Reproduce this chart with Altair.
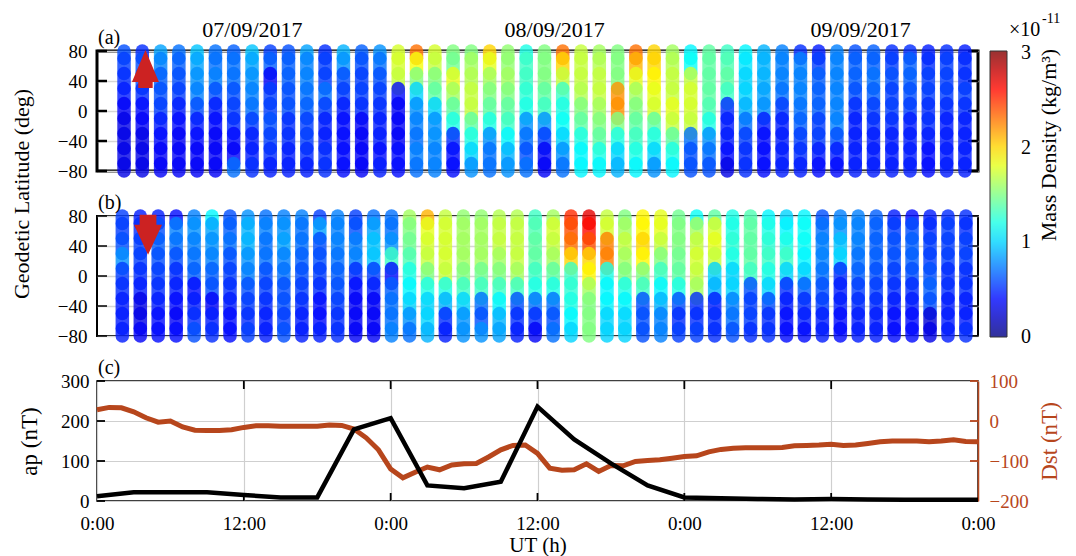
import altair as alt
import pandas as pd

SERIF = "Liberation Serif"
ORANGE = "#B7461C"
ARROW_RED = "#CC2222"
TICK_FS = 19
TITLE_FS = 23

# ---------------- data ----------------
LAT_KNOTS = [80, 60, 40, 20, 0, -20, -40, -60, -80]

# (a) ascending passes: UT (h) of each pass and density (1e-11 kg/m^3) at LAT_KNOTS
ASC_HOURS = [2.21, 3.70, 5.20, 6.69, 8.18, 9.68, 11.17, 12.67, 14.16, 15.65,
             17.15, 18.64, 20.14, 21.63, 23.12, 24.62, 26.11, 27.61, 29.10, 30.59,
             32.09, 33.58, 35.08, 36.57, 38.06, 39.56, 41.05, 42.55, 44.04, 45.53,
             47.03, 48.52, 50.02, 51.51, 53.00, 54.50, 55.99, 57.49, 58.98, 60.47,
             61.97, 63.46, 64.96, 66.45, 67.94, 69.44, 70.93]
ASC_DENSITY = [
    [0.60, 0.55, 0.50, 0.45, 0.35, 0.30, 0.30, 0.30, 0.30],
    [0.50, 0.60, 0.60, 0.50, 0.40, 0.35, 0.30, 0.30, 0.30],
    [0.85, 0.75, 0.65, 0.60, 0.55, 0.45, 0.40, 0.35, 0.35],
    [0.70, 0.65, 0.60, 0.55, 0.45, 0.40, 0.35, 0.35, 0.35],
    [0.95, 0.85, 0.80, 0.75, 0.60, 0.45, 0.40, 0.35, 0.35],
    [0.70, 0.70, 0.75, 0.60, 0.45, 0.40, 0.35, 0.35, 0.35],
    [0.65, 0.70, 0.70, 0.60, 0.55, 0.50, 0.40, 0.35, 0.70],
    [0.95, 0.85, 0.80, 0.75, 0.70, 0.55, 0.45, 0.45, 0.50],
    [0.55, 0.65, 0.35, 0.55, 0.55, 0.60, 0.55, 0.50, 0.45],
    [0.60, 0.65, 0.65, 0.60, 0.60, 0.50, 0.50, 0.45, 0.45],
    [0.85, 0.75, 0.75, 0.70, 0.65, 0.55, 0.55, 0.50, 0.45],
    [0.50, 0.55, 0.55, 0.70, 0.55, 0.45, 0.45, 0.50, 0.50],
    [0.90, 0.80, 0.60, 0.55, 0.45, 0.40, 0.40, 0.40, 0.40],
    [0.65, 0.60, 0.55, 0.55, 0.50, 0.35, 0.35, 0.35, 0.35],
    [0.80, 0.70, 0.60, 0.55, 0.50, 0.45, 0.45, 0.40, 0.45],
    [1.75, 1.75, 1.70, 0.40, 0.35, 0.35, 0.35, 0.40, 0.40],
    [2.30, 1.85, 1.50, 1.00, 0.80, 0.75, 0.70, 0.75, 0.70],
    [1.75, 1.70, 1.50, 1.40, 1.00, 0.80, 0.80, 0.75, 0.75],
    [1.50, 1.45, 1.80, 1.60, 1.40, 1.20, 0.50, 0.40, 0.40],
    [1.50, 1.60, 1.65, 1.70, 1.70, 1.40, 1.20, 1.00, 0.80],
    [2.00, 1.80, 1.60, 1.50, 1.40, 1.20, 0.80, 0.70, 0.70],
    [1.55, 1.55, 1.60, 1.50, 1.40, 1.30, 1.10, 0.90, 0.80],
    [1.20, 1.30, 1.30, 1.25, 1.20, 0.80, 0.70, 0.60, 0.70],
    [1.50, 1.50, 1.50, 1.40, 1.30, 0.80, 0.55, 0.35, 0.35],
    [2.30, 2.00, 1.70, 1.30, 1.20, 1.15, 1.00, 0.80, 0.70],
    [1.70, 1.70, 1.70, 1.65, 1.50, 1.40, 1.20, 1.10, 1.10],
    [1.60, 1.65, 1.70, 1.70, 1.60, 1.50, 1.40, 1.20, 1.10],
    [1.50, 1.50, 1.50, 2.20, 2.20, 1.50, 1.20, 1.00, 0.90],
    [2.30, 2.10, 1.80, 1.60, 1.50, 1.40, 1.30, 1.20, 1.10],
    [2.00, 2.00, 1.90, 1.80, 1.75, 1.40, 1.20, 1.00, 0.80],
    [1.60, 1.65, 1.70, 1.70, 1.80, 1.70, 1.40, 1.20, 1.10],
    [1.10, 1.15, 1.70, 1.75, 1.75, 1.70, 0.70, 0.60, 0.60],
    [1.40, 1.40, 1.40, 1.40, 1.35, 1.20, 0.80, 0.70, 0.60],
    [1.30, 1.35, 1.40, 1.30, 0.50, 0.45, 0.45, 0.40, 0.30],
    [1.10, 1.05, 1.00, 1.00, 0.90, 0.70, 0.55, 0.50, 0.50],
    [0.90, 0.90, 0.90, 0.85, 0.80, 0.45, 0.40, 0.40, 0.40],
    [0.75, 0.75, 0.75, 0.70, 0.55, 0.45, 0.45, 0.45, 0.45],
    [0.50, 0.75, 0.75, 0.75, 0.70, 0.65, 0.55, 0.50, 0.45],
    [0.45, 0.55, 0.65, 0.65, 0.65, 0.55, 0.55, 0.45, 0.40],
    [0.75, 0.75, 0.75, 0.75, 0.75, 0.75, 0.60, 0.45, 0.40],
    [0.60, 0.65, 0.65, 0.60, 0.50, 0.45, 0.45, 0.45, 0.45],
    [0.65, 0.65, 0.70, 0.65, 0.55, 0.50, 0.45, 0.45, 0.45],
    [0.50, 0.55, 0.60, 0.55, 0.55, 0.50, 0.45, 0.45, 0.45],
    [0.50, 0.65, 0.65, 0.60, 0.55, 0.45, 0.45, 0.45, 0.45],
    [0.45, 0.50, 0.55, 0.55, 0.50, 0.50, 0.45, 0.40, 0.40],
    [0.50, 0.55, 0.55, 0.55, 0.50, 0.45, 0.45, 0.45, 0.45],
    [0.45, 0.50, 0.50, 0.55, 0.50, 0.45, 0.45, 0.45, 0.45],
]

# (b) descending passes
DESC_HOURS = [2.07, 3.54, 5.00, 6.47, 7.94, 9.40, 10.87, 12.34, 13.80, 15.27,
              16.74, 18.21, 19.67, 21.14, 22.61, 24.07, 25.54, 27.01, 28.47, 29.94,
              31.41, 32.87, 34.34, 35.81, 37.28, 38.74, 40.21, 41.68, 43.14, 44.61,
              46.08, 47.54, 49.01, 50.48, 51.94, 53.41, 54.88, 56.35, 57.81, 59.28,
              60.75, 62.21, 63.68, 65.15, 66.61, 68.08, 69.55, 71.01]
DESC_DENSITY = [
    [0.55, 0.55, 0.60, 0.80, 0.55, 0.50, 0.45, 0.45, 0.45],
    [0.45, 0.50, 0.55, 0.55, 0.50, 0.45, 0.30, 0.30, 0.35],
    [0.45, 0.60, 0.65, 0.60, 0.55, 0.50, 0.45, 0.40, 0.40],
    [0.40, 0.75, 0.70, 0.60, 0.50, 0.45, 0.40, 0.35, 0.40],
    [0.75, 0.80, 0.75, 0.70, 0.65, 0.40, 0.45, 0.50, 0.60],
    [1.10, 0.85, 0.80, 0.75, 0.65, 0.60, 0.35, 0.45, 0.50],
    [0.60, 0.65, 0.70, 0.60, 0.55, 0.50, 0.45, 0.40, 0.40],
    [0.80, 0.90, 0.90, 0.80, 0.75, 0.60, 0.55, 0.50, 0.55],
    [0.70, 0.75, 0.70, 0.70, 0.60, 0.55, 0.50, 0.45, 0.45],
    [0.75, 0.80, 0.85, 0.75, 0.70, 0.60, 0.60, 0.55, 0.60],
    [0.75, 0.70, 0.70, 0.65, 0.60, 0.55, 0.50, 0.45, 0.45],
    [0.55, 0.85, 0.60, 0.60, 0.55, 0.50, 0.40, 0.40, 0.45],
    [0.75, 0.75, 0.75, 0.70, 0.65, 0.60, 0.55, 0.50, 0.50],
    [0.55, 0.60, 0.75, 0.75, 0.50, 0.40, 0.35, 0.35, 0.35],
    [0.70, 0.85, 0.95, 0.95, 0.55, 0.45, 0.35, 0.35, 0.35],
    [0.70, 0.70, 0.80, 1.30, 0.40, 0.65, 0.70, 0.70, 0.75],
    [1.60, 1.50, 1.45, 1.35, 1.20, 1.10, 1.00, 0.80, 0.70],
    [2.10, 1.80, 1.75, 1.70, 1.50, 1.20, 1.00, 1.00, 0.90],
    [1.70, 1.75, 1.75, 1.75, 1.70, 1.20, 0.90, 0.50, 0.45],
    [1.55, 1.60, 1.60, 1.60, 1.50, 1.30, 1.00, 0.80, 0.80],
    [1.55, 1.60, 1.60, 1.60, 1.45, 1.30, 0.70, 0.60, 0.80],
    [1.65, 1.70, 1.70, 1.60, 1.50, 1.30, 1.10, 0.90, 0.85],
    [1.65, 1.70, 1.70, 1.70, 1.60, 1.30, 0.60, 0.50, 0.45],
    [1.30, 1.35, 1.40, 1.40, 1.30, 1.20, 0.70, 0.50, 0.35],
    [1.60, 1.75, 1.70, 1.60, 1.40, 1.20, 0.70, 0.60, 0.70],
    [2.50, 2.40, 2.30, 2.00, 1.30, 1.25, 1.20, 1.10, 1.00],
    [2.70, 2.60, 2.40, 2.00, 1.90, 1.60, 1.50, 1.50, 1.50],
    [1.70, 1.75, 2.25, 2.25, 1.20, 1.10, 1.10, 1.00, 1.00],
    [1.50, 1.60, 1.70, 1.60, 1.50, 1.20, 1.10, 1.00, 1.00],
    [1.90, 1.90, 2.00, 1.90, 1.50, 1.30, 0.60, 0.60, 0.60],
    [1.80, 1.80, 1.70, 1.50, 1.30, 1.10, 0.90, 0.75, 0.75],
    [1.45, 1.50, 1.50, 1.45, 1.40, 1.20, 0.60, 0.50, 0.55],
    [1.15, 1.60, 1.70, 1.75, 1.70, 1.60, 0.50, 0.50, 0.55],
    [1.40, 1.75, 1.80, 1.70, 1.00, 0.90, 0.45, 0.50, 0.50],
    [1.20, 1.20, 1.25, 1.20, 1.00, 1.00, 0.75, 0.70, 0.60],
    [1.35, 1.40, 1.40, 1.40, 1.30, 0.60, 0.55, 0.55, 0.50],
    [1.10, 1.20, 1.25, 1.30, 1.20, 1.00, 0.60, 0.50, 0.50],
    [1.00, 1.10, 1.20, 1.30, 1.00, 0.50, 0.45, 0.40, 0.40],
    [1.10, 1.15, 1.15, 1.10, 1.00, 0.65, 0.50, 0.45, 0.40],
    [0.60, 0.70, 0.75, 0.75, 0.70, 0.60, 0.55, 0.45, 0.45],
    [0.75, 0.80, 0.95, 1.00, 0.50, 0.45, 0.45, 0.40, 0.40],
    [0.75, 0.75, 0.75, 0.70, 0.65, 0.55, 0.50, 0.45, 0.45],
    [0.65, 0.65, 0.65, 0.65, 0.60, 0.55, 0.50, 0.45, 0.45],
    [0.45, 0.55, 0.60, 0.60, 0.55, 0.50, 0.45, 0.40, 0.40],
    [0.40, 0.60, 0.65, 0.65, 0.60, 0.50, 0.45, 0.40, 0.40],
    [0.45, 0.50, 0.55, 0.55, 0.60, 0.65, 0.60, 0.25, 0.30],
    [0.50, 0.55, 0.55, 0.55, 0.50, 0.50, 0.45, 0.45, 0.45],
    [0.50, 0.50, 0.55, 0.55, 0.50, 0.50, 0.45, 0.45, 0.50],
]

# (c) geomagnetic indices
AP_HOURS = [0, 3, 6, 9, 12, 15, 18, 21, 24, 27, 30, 33, 36, 39, 42, 45, 48,
            51, 54, 57, 60, 63, 66, 69, 72]
AP_VALUES = [12, 22, 22, 22, 15, 9, 9, 179, 207, 39, 32, 48, 236, 154, 94, 39, 9,
             7, 5, 4, 5, 4, 3, 3, 3]
DST_HOURS = list(range(0, 73))
DST_VALUES = [28, 34, 33, 23, 8, -3, 0, -15, -23, -24, -24, -22, -16, -12, -12, -13,
              -13, -13, -13, -10, -11, -20, -42, -72, -120, -142, -128, -115, -122,
              -110, -107, -106, -90, -72, -61, -60, -81, -118, -123, -122, -107, -126,
              -111, -112, -101, -99, -97, -93, -89, -87, -77, -71, -68, -67, -67, -67,
              -66, -62, -61, -60, -58, -61, -60, -56, -52, -50, -50, -50, -52, -50,
              -47, -51, -52]

LAT_TICKS = [-80, -40, 0, 40, 80]
UT_TICKS = [0, 12, 24, 36, 48, 60, 72]
UT_INNER_TICKS = [12, 24, 36, 48, 60]
AP_TICKS = [0, 100, 200, 300]
DST_TICKS = [-200, -100, 0, 100]
CBAR_TICKS = [0, 1, 2, 3]
DATE_LABELS = ["07/09/2017", "08/09/2017", "09/09/2017"]
DATE_LABEL_HOURS = [12.7, 37.4, 62.4]

JET_DOMAIN = [0, 0.375, 0.75, 1.125, 1.5, 1.875, 2.25, 2.625, 3]
JET_COLORS = ["#000080", "#0000ff", "#0080ff", "#00ffff", "#80ff80",
              "#ffff00", "#ff8000", "#ff0000", "#800000"]

W = 881
H = 120
CBAR_LEN = 286

ARROW_UP = "M0,-1L0.71,0.68L0.38,0.68L0.38,1L-0.38,1L-0.38,0.68L-0.71,0.68Z"
ARROW_DOWN = "M0,1L0.7,-0.5L0.42,-0.5L0.42,-1L-0.42,-1L-0.42,-0.5L-0.7,-0.5Z"


def track_frame(hours, dens):
    rows = []
    for t, col in zip(hours, dens):
        for lat, d in zip(LAT_KNOTS, col):
            rows.append({"t": t, "lo": max(lat - 10, -80), "hi": min(lat + 10, 80), "rho": d})
    return pd.DataFrame(rows)


def xscale():
    return alt.Scale(domain=[0, 72], nice=False, zero=False)


def latscale():
    return alt.Scale(domain=[-80, 80], nice=False, zero=False)


cscale = alt.Scale(domain=JET_DOMAIN, range=JET_COLORS, interpolate="rgb", clamp=True)


def text_layer(s, x, y, size, angle=0, align="left"):
    return alt.Chart(pd.DataFrame({"s": [s]})).mark_text(
        font=SERIF, fontSize=size, align=align, baseline="middle", angle=angle).encode(
        x=alt.value(x), y=alt.value(y), text="s:N")


def lat_axis(first):
    kw = dict(values=LAT_TICKS, grid=True, gridColor="#d6d6d6", gridWidth=1.6,
              domain=False, ticks=False, labelPadding=10, labelFlush=False,
              labelFont=SERIF, labelFontSize=TICK_FS, labelColor="black")
    if first:
        kw.update(title="Geodetic Latitude (deg)", titleX=-76, titleY=142.5,
                  titleAngle=270, titleAlign="center", titleBaseline="middle",
                  titleFont=SERIF, titleFontSize=TITLE_FS - 1, titleFontWeight="normal",
                  titleColor="black")
    else:
        kw.update(title="")
    return alt.Axis(**kw)


def density_panel(hours, dens, label, arrow_shape, arrow_size, arrow_t, arrow_lat,
                  frame_w, first):
    df = track_frame(hours, dens)
    tick_df = pd.DataFrame({"v": LAT_TICKS})
    ax = lat_axis(first)
    ticks_l = alt.Chart(tick_df).mark_rule(color="black", strokeWidth=frame_w - 0.5).encode(
        x=alt.value(0), x2=alt.value(10),
        y=alt.Y("v:Q", scale=latscale(), axis=ax))
    ticks_r = alt.Chart(tick_df).mark_rule(color="black", strokeWidth=frame_w - 0.5).encode(
        x=alt.value(W - 10), x2=alt.value(W),
        y=alt.Y("v:Q", scale=latscale(), axis=ax))
    if first:
        legend = alt.Legend(title=None, orient="right", offset=12,
                            direction="vertical", gradientLength=CBAR_LEN,
                            gradientThickness=17,
                            gradientStrokeColor="black", gradientStrokeWidth=1,
                            values=CBAR_TICKS, labelExpr="''", labelFontSize=20)
    else:
        legend = None
    tracks = alt.Chart(df).mark_rule(strokeWidth=13.5, strokeCap="round", opacity=0.8).encode(
        x=alt.X("t:Q", scale=xscale(), axis=None),
        y=alt.Y("lo:Q", scale=latscale(), axis=ax),
        y2="hi:Q",
        color=alt.Color("rho:Q", scale=cscale, legend=legend))
    arrow = alt.Chart(pd.DataFrame({"t": [arrow_t], "lat": [arrow_lat]})).mark_point(
        shape=arrow_shape, filled=True, size=arrow_size, color=ARROW_RED, opacity=1,
        strokeWidth=0).encode(
        x=alt.X("t:Q", scale=xscale(), axis=None),
        y=alt.Y("lat:Q", scale=latscale(), axis=ax))
    plabel = text_layer(label, 1, -13, 20)
    layers = [ticks_l, ticks_r, tracks, arrow, plabel]
    if first:
        dates = alt.Chart(pd.DataFrame({"t": DATE_LABEL_HOURS, "s": DATE_LABELS})).mark_text(
            font=SERIF, fontSize=22, align="center", baseline="middle").encode(
            x=alt.X("t:Q", scale=xscale(), axis=None), y=alt.value(-21.5), text="s:N")
        x10 = text_layer("×10", W + 31, -21.5, 20)
        exp = text_layer("-11", W + 64, -32, 14)
        cb_title = text_layer("Mass Density (kg/m³)", W + 71, 94, 22, angle=270,
                              align="center")
        # colour-bar tick labels, centred on their values along the bar
        cb_df = pd.DataFrame({"v": CBAR_TICKS, "s": [str(v) for v in CBAR_TICKS]})
        cb_df["py"] = 2 + (max(CBAR_TICKS) - cb_df["v"]) / max(CBAR_TICKS) * (CBAR_LEN - 2)
        cb_labels = alt.Chart(cb_df).mark_text(
            font=SERIF, fontSize=20, align="left", baseline="middle").encode(
            x=alt.value(W + 43), y=alt.Y("py:Q", scale=None, axis=None), text="s:N")
        layers += [dates, x10, exp, cb_title, cb_labels]
    return alt.layer(*layers).properties(
        width=W, height=H,
        view=alt.ViewBackground(stroke="black", strokeWidth=frame_w))


panel_a = density_panel(ASC_HOURS, ASC_DENSITY, "(a)", ARROW_UP, 1444, 3.96, 56, 3, True)
panel_b = density_panel(DESC_HOURS, DESC_DENSITY, "(b)", ARROW_DOWN, 1600, 4.17, 55, 2, False)

# ---------------- panel (c) ----------------
ap_df = pd.DataFrame({"t": AP_HOURS, "ap": AP_VALUES})
dst_df = pd.DataFrame({"t": DST_HOURS, "dst": DST_VALUES})
ut_df = pd.DataFrame({"v": UT_INNER_TICKS})


def apscale():
    return alt.Scale(domain=[0, 300], nice=False, zero=False)


def dstscale():
    return alt.Scale(domain=[-200, 100], nice=False, zero=False)


xaxis_c = alt.Axis(values=UT_TICKS, grid=True, gridColor="#cfcfcf", gridWidth=1.2,
                   domain=False, ticks=False, labelFlush=False, labelPadding=13,
                   labelExpr="datum.value % 24 == 0 ? '0:00' : '12:00'",
                   labelFont=SERIF, labelFontSize=TICK_FS, labelColor="black",
                   title="UT (h)", titleY=44, titleBaseline="middle",
                   titleFont=SERIF, titleFontSize=21,
                   titleFontWeight="normal", titleColor="black")
ap_axis = alt.Axis(values=AP_TICKS, grid=True, gridColor="#cfcfcf", gridWidth=1.2,
                   domain=False, ticks=False, labelPadding=8, labelFont=SERIF,
                   labelFontSize=TICK_FS, labelColor="black", title="ap (nT)",
                   titleX=-68, titleY=60, titleAngle=270, titleAlign="center",
                   titleBaseline="middle", titleFont=SERIF, titleFontSize=TITLE_FS,
                   titleFontWeight="normal", titleColor="black")
dst_axis = alt.Axis(values=DST_TICKS, orient="right", grid=False, domain=True,
                    domainColor=ORANGE, domainWidth=1.5, ticks=False, labelPadding=11,
                    labelFont=SERIF, labelFontSize=TICK_FS, labelColor=ORANGE,
                    title="Dst (nT)", titleColor=ORANGE, titleFont=SERIF,
                    titleFontSize=TITLE_FS, titleFontWeight="normal",
                    titleX=71, titleY=60, titleAngle=270, titleAlign="center",
                    titleBaseline="middle")

ap_line = alt.Chart(ap_df).mark_line(color="black", strokeWidth=4.5).encode(
    x=alt.X("t:Q", scale=xscale(), axis=xaxis_c),
    y=alt.Y("ap:Q", scale=apscale(), axis=ap_axis))
xt_top = alt.Chart(ut_df).mark_rule(color="black", strokeWidth=1.8).encode(
    x=alt.X("v:Q", scale=xscale(), axis=xaxis_c), y=alt.value(0), y2=alt.value(8))
xt_bot = alt.Chart(ut_df).mark_rule(color="black", strokeWidth=1.8).encode(
    x=alt.X("v:Q", scale=xscale(), axis=xaxis_c), y=alt.value(H - 8), y2=alt.value(H))
yt_left = alt.Chart(pd.DataFrame({"v": AP_TICKS})).mark_rule(color="black", strokeWidth=1.8).encode(
    x=alt.value(0), x2=alt.value(8), y=alt.Y("v:Q", scale=apscale(), axis=ap_axis))
clabel = text_layer("(c)", 1, -13, 20)
left_group = alt.layer(xt_top, xt_bot, yt_left, clabel, ap_line)

dst_line = alt.Chart(dst_df).mark_line(color=ORANGE, strokeWidth=5).encode(
    x=alt.X("t:Q", scale=xscale(), axis=xaxis_c),
    y=alt.Y("dst:Q", scale=dstscale(), axis=dst_axis))
yt_right = alt.Chart(pd.DataFrame({"v": DST_TICKS})).mark_rule(color=ORANGE, strokeWidth=1.8).encode(
    x=alt.value(W - 8), x2=alt.value(W), y=alt.Y("v:Q", scale=dstscale(), axis=dst_axis))
right_group = alt.layer(yt_right, dst_line)

panel_c = alt.layer(right_group, left_group).resolve_scale(y="independent").properties(
    width=W, height=H,
    view=alt.ViewBackground(stroke="black", strokeWidth=1.5))

chart = alt.vconcat(panel_a, panel_b, panel_c, spacing=45, bounds="flush").resolve_scale(
    color="independent").properties(
    padding={"left": 0, "top": 2, "right": 0, "bottom": 0}
)

chart.save("out.html", embed_options={"renderer": "svg", "actions": False})
